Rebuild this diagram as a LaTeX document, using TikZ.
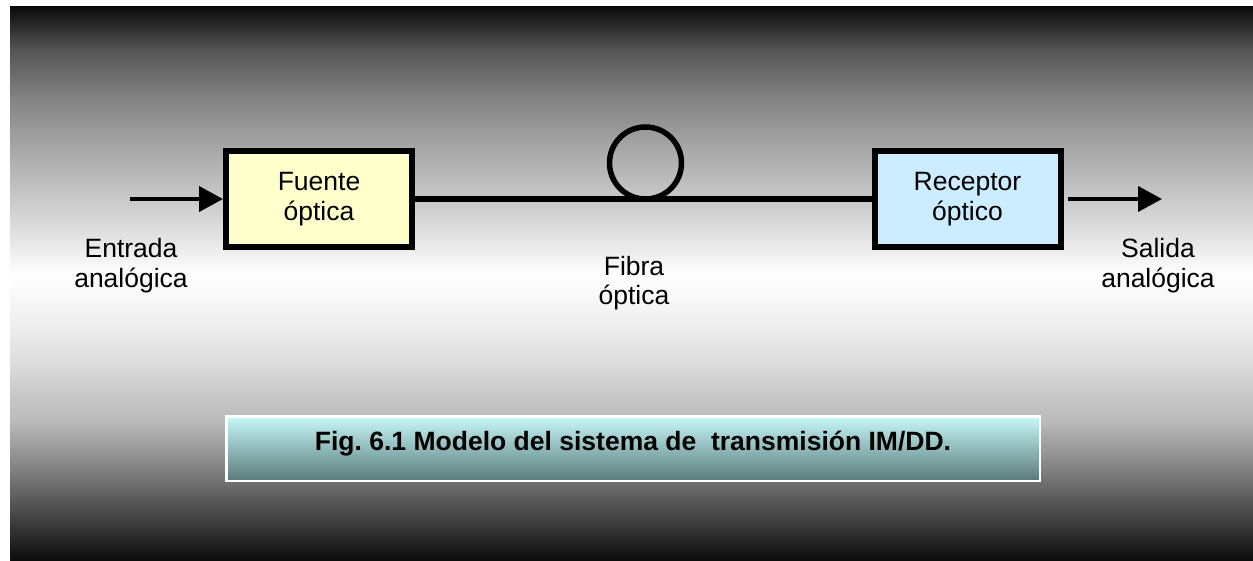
\documentclass[tikz,border=0pt]{standalone}
\usepackage{fontspec}
\setmainfont{Liberation Sans}
\usetikzlibrary{arrows.meta}
\definecolor{fuentefill}{HTML}{FFFFCC}
\definecolor{recfill}{HTML}{CCECFF}
\definecolor{captop}{HTML}{C8F8F8}
\definecolor{capbot}{HTML}{5A7A7A}
\pgfdeclareverticalshading{bgshade}{100bp}{gray(0bp)=(0.043); gray(25bp)=(0.043); gray(28.7bp)=(0.25); gray(31.7bp)=(0.416); gray(34.1bp)=(0.55); gray(37.7bp)=(0.733); gray(39.5bp)=(0.77); gray(43.1bp)=(0.87); gray(46.75bp)=(0.94); gray(50.8bp)=(1); gray(54bp)=(0.898); gray(57.6bp)=(0.79); gray(62.1bp)=(0.66); gray(66.6bp)=(0.52); gray(71.1bp)=(0.333); gray(75bp)=(0.043); gray(100bp)=(0.043)}
\begin{document}
\begin{tikzpicture}[x=1pt,y=-1pt,
  every node/.style={font=\fontsize{26.5}{29.5}\selectfont\frenchspacing, inner sep=0pt},
  block/.style={draw=black, line width=6pt, minimum width=186pt, minimum height=96pt, align=center},
  sig/.style={line width=4pt, -{Triangle[length=24pt,width=25pt]}},
  fiberline/.style={line width=5.5pt},
  lbl/.style={align=center},
  capbox/.style={draw=white, line width=2.5pt, top color=captop, bottom color=capbot,
    minimum width=813.5pt, minimum height=64.5pt, text height=19.3pt, text depth=14.9pt,
    font=\fontsize{26.5}{29.5}\selectfont\bfseries\frenchspacing}]
\useasboundingbox (0,0) rectangle (1253,561);
\fill[white] (0,0) rectangle (1253,561);
\shade[shading=bgshade] (10,7) rectangle (1253,561);
% blocks
\node[block, fill=fuentefill] (fuente) at (319,199) {Fuente\\óptica};
\node[block, fill=recfill] (rec) at (967.5,199) {Receptor\\óptico};
\node[circle, draw=black, line width=5.5pt, minimum size=72pt] (loop) at (645.5,163) {};
% connectors
\coordinate (in) at (130,199);
\coordinate (out) at (1162,199);
\draw[sig] (in) -- (fuente.west);
\draw[fiberline] (fuente.east) -- (rec.west);
\draw[sig, shorten <=4pt] (rec.east) -- (out);
% labels
\node[lbl] (entrada) at (131,265.6) {Entrada\\analógica};
\node[lbl] (salida) at (1158,265.6) {Salida\\analógica};
\node[lbl] (fibra) at (634,283.2) {Fibra\\óptica};
% caption
\node[capbox] (cap) at (633,448.5) {Fig. 6.1 Modelo del sistema de\ \ transmisión IM/DD.};
\end{tikzpicture}
\end{document}
